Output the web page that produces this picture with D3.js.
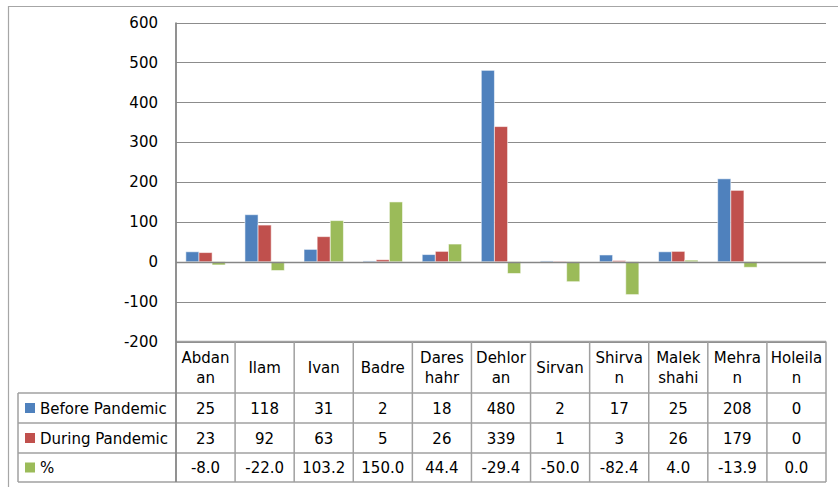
<!DOCTYPE html>
<html>
<head>
<meta charset="utf-8">
<script src="https://d3js.org/d3.v7.min.js"></script>
<style>
body { margin: 0; background: #fff; }
svg { display: block; font-family: "DejaVu Sans", sans-serif; }
</style>
</head>
<body>
<div id="root"></div>
<script>
// data
let categories = ['Abdanan', 'Ilam', 'Ivan', 'Badre', 'Dareshahr', 'Dehloran', 'Sirvan', 'Shirvan', 'Malekshahi', 'Mehran', 'Holeilan'];
let category_lines = [['Abdan', 'an'], ['Ilam'], ['Ivan'], ['Badre'], ['Dares', 'hahr'], ['Dehlor', 'an'], ['Sirvan'], ['Shirva', 'n'], ['Malek', 'shahi'], ['Mehra', 'n'], ['Holeila', 'n']];
let series_names = ['Before Pandemic', 'During Pandemic', '%'];
let before = [25, 118, 31, 2, 18, 480, 2, 17, 25, 208, 0];
let during = [23, 92, 63, 5, 26, 339, 1, 3, 26, 179, 0];
let percent = [-8.0, -22.0, 103.2, 150.0, 44.4, -29.4, -50.0, -82.4, 4.0, -13.9, 0.0];
let y_ticks = [-200, -100, 0, 100, 200, 300, 400, 500, 600];

let colors = ['#4f81bd', '#c0504d', '#9bbb59'];
let series_values = [before, during, percent];
let series_text = [
    before.map(d => String(d)),
    during.map(d => String(d)),
    percent.map(d => d.toFixed(1))
];

let width = 838;
let height = 487;
let plot_left = 176, plot_right = 826, plot_top = 22.5, plot_bottom = 341.5;
let row_y = [393, 423, 453, 482];
let legend_left = 18;

let svg = d3.select('#root').append('svg')
    .attr('width', width)
    .attr('height', height);

// outer frame
svg.append('path')
    .attr('d', `M8.5,${height + 2} V6.5 H${width + 2}`)
    .attr('fill', 'none')
    .attr('stroke', '#a6a6a6')
    .attr('stroke-width', 1.2);

let y = d3.scaleLinear().domain([-200, 600]).range([plot_bottom, plot_top]);
let x0 = d3.scaleBand().domain(categories).range([plot_left, plot_right]).padding(0);
let x1 = d3.scaleBand().domain(series_names).range([0, x0.bandwidth()]).paddingInner(0).paddingOuter(0.75);

// gridlines
svg.append('g')
    .selectAll('line')
    .data(y_ticks)
    .join('line')
    .attr('x1', plot_left)
    .attr('x2', plot_right)
    .attr('y1', d => Math.round(y(d)) + 0.5)
    .attr('y2', d => Math.round(y(d)) + 0.5)
    .attr('stroke', '#8c8c8c')
    .attr('stroke-width', 1.2);

// bars
let groups = svg.append('g')
    .selectAll('g')
    .data(series_names)
    .join('g')
    .attr('fill', (d, i) => colors[i]);

groups.selectAll('rect')
    .data((s, si) => series_values[si].map((v, ci) => ({ s, v, c: categories[ci] })))
    .join('rect')
    .attr('x', d => x0(d.c) + x1(d.s))
    .attr('width', x1.bandwidth())
    .attr('y', d => y(Math.max(0, d.v)))
    .attr('height', d => Math.abs(y(d.v) - y(0)))
    .attr('stroke', 'rgba(255,255,255,0.55)')
    .attr('stroke-width', 1);

// zero line on top of bars
svg.append('line')
    .attr('x1', plot_left)
    .attr('x2', plot_right)
    .attr('y1', Math.round(y(0)) + 0.5)
    .attr('y2', Math.round(y(0)) + 0.5)
    .attr('stroke', '#868686')
    .attr('stroke-width', 1.5);

// y axis labels (plain hyphen for negatives)
let y_axis = svg.append('g')
    .attr('transform', `translate(${plot_left}, 0)`)
    .call(d3.axisLeft(y).tickValues(y_ticks).tickFormat(d => String(d)).tickSize(0).tickPadding(18));
y_axis.select('.domain').remove();
y_axis.selectAll('text')
    .attr('font-family', '"DejaVu Sans", sans-serif')
    .attr('font-size', 15)
    .attr('fill', '#000');

// data table lines
let table = svg.append('g')
    .attr('stroke', '#a0a0a0')
    .attr('stroke-width', 1.5)
    .attr('fill', 'none');

table.append('line')
    .attr('x1', plot_left).attr('x2', plot_right)
    .attr('y1', plot_bottom).attr('y2', plot_bottom);
row_y.forEach(r => {
    table.append('line')
        .attr('x1', legend_left).attr('x2', plot_right)
        .attr('y1', r).attr('y2', r);
});
categories.forEach(c => {
    table.append('line')
        .attr('x1', x0(c) + x0.bandwidth()).attr('x2', x0(c) + x0.bandwidth())
        .attr('y1', plot_bottom).attr('y2', row_y[3]);
});
table.append('line')
    .attr('x1', legend_left).attr('x2', legend_left)
    .attr('y1', row_y[0]).attr('y2', row_y[3]);

// axis line
svg.append('line')
    .attr('x1', plot_left).attr('x2', plot_left)
    .attr('y1', plot_top).attr('y2', row_y[3])
    .attr('stroke', '#868686')
    .attr('stroke-width', 1.8);

// category headers
let header_mid = (plot_bottom + row_y[0]) / 2;
let headers = svg.append('g')
    .attr('font-size', 15)
    .attr('text-anchor', 'middle')
    .attr('fill', '#000')
    .selectAll('text')
    .data(categories)
    .join('text')
    .attr('x', c => x0(c) + x0.bandwidth() / 2)
    .attr('y', (c, i) => category_lines[i].length > 1 ? header_mid - 10 + 5.5 : header_mid + 5.5);
headers.selectAll('tspan')
    .data((c, i) => category_lines[i])
    .join('tspan')
    .attr('x', function () { return d3.select(this.parentNode).attr('x'); })
    .attr('dy', (d, i) => i === 0 ? 0 : 20)
    .text(d => d);

// legend column and values
series_names.forEach((s, si) => {
    let cy = (row_y[si] + row_y[si + 1]) / 2;
    svg.append('rect')
        .attr('x', 25)
        .attr('y', cy - 5)
        .attr('width', 10)
        .attr('height', 10)
        .attr('fill', colors[si]);
    svg.append('text')
        .attr('x', 40)
        .attr('y', cy + 5.5)
        .attr('font-size', 15)
        .attr('fill', '#000')
        .text(s);
    svg.append('g')
        .attr('font-size', 15)
        .attr('text-anchor', 'middle')
        .attr('fill', '#000')
        .selectAll('text')
        .data(series_text[si])
        .join('text')
        .attr('x', (d, ci) => x0(categories[ci]) + x0.bandwidth() / 2)
        .attr('y', cy + 5.5)
        .text(d => d);
});
</script>
</body>
</html>
